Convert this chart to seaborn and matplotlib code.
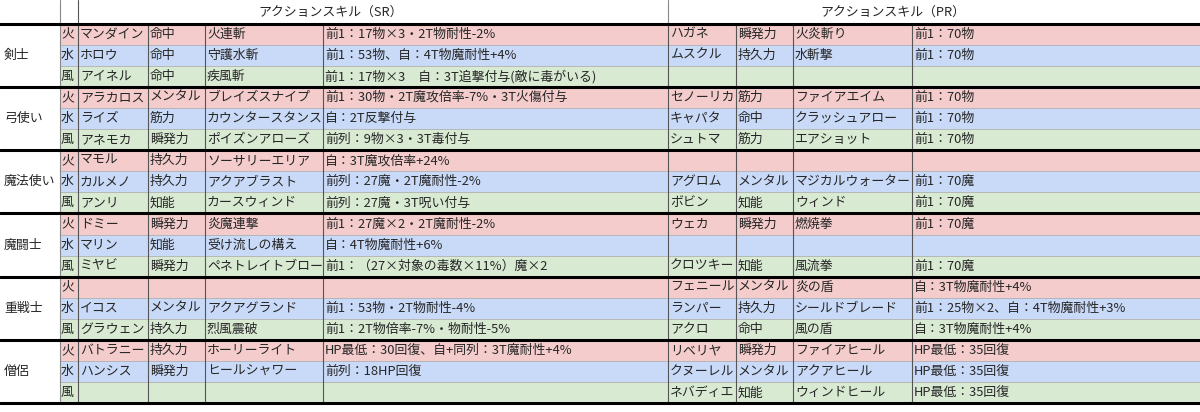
import matplotlib
matplotlib.use("Agg")
import matplotlib.pyplot as plt
import seaborn as sns

sns.set_theme(style="white")
plt.rcParams['font.family'] = ['Noto Sans CJK JP', 'DejaVu Sans']

classes = ["剣士", "弓使い", "魔法使い", "魔闘士", "重戦士", "僧侶"]
elements = ["火", "水", "風"]
sr_names = ["マンダイン", "ホロウ", "アイネル", "アラカロス", "ライズ", "アネモカ", "マモル", "カルメノ", "アンリ",
            "ドミー", "マリン", "ミヤビ", "", "イコス", "グラウェン", "バトラニー", "ハンシス", ""]
sr_stats = ["命中", "命中", "命中", "メンタル", "筋力", "瞬発力", "持久力", "持久力", "知能",
            "瞬発力", "知能", "瞬発力", "", "メンタル", "持久力", "持久力", "瞬発力", ""]
sr_skills = ["火連斬", "守護水斬", "疾風斬", "ブレイズスナイプ", "カウンタースタンス", "ポイズンアローズ",
             "ソーサリーエリア", "アクアブラスト", "カースウィンド", "炎魔連撃", "受け流しの構え", "ペネトレイトブロー",
             "", "アクアグランド", "烈風震破", "ホーリーライト", "ヒールシャワー", ""]
sr_descs = ["前1：17物×3・2T物耐性-2%", "前1：53物、自：4T物魔耐性+4%", "前1：17物×3　自：3T追撃付与(敵に毒がいる)",
            "前1：30物・2T魔攻倍率-7%・3T火傷付与", "自：2T反撃付与", "前列：9物×3・3T毒付与",
            "自：3T魔攻倍率+24%", "前列：27魔・2T魔耐性-2%", "前列：27魔・3T呪い付与",
            "前1：27魔×2・2T魔耐性-2%", "自：4T物魔耐性+6%", "前1：（27×対象の毒数×11%）魔×2",
            "", "前1：53物・2T物耐性-4%", "前1：2T物倍率-7%・物耐性-5%",
            "HP最低：30回復、自+同列：3T魔耐性+4%", "前列：18HP回復", ""]
pr_names = ["ハガネ", "ムスクル", "", "セノーリカ", "キャパタ", "シュトマ", "", "アグロム", "ボビン",
            "ウェカ", "", "クロツキー", "フェニール", "ランパー", "アクロ", "リベリヤ", "クヌーレル", "ネバディエ"]
pr_stats = ["瞬発力", "持久力", "", "筋力", "命中", "筋力", "", "メンタル", "知能",
            "瞬発力", "", "知能", "メンタル", "持久力", "命中", "瞬発力", "メンタル", "知能"]
pr_skills = ["火炎斬り", "水斬撃", "", "ファイアエイム", "クラッシュアロー", "エアショット", "", "マジカルウォーター", "ウィンド",
             "燃焼拳", "", "風流拳", "炎の盾", "シールドブレード", "風の盾", "ファイアヒール", "アクアヒール", "ウィンドヒール"]
pr_descs = ["前1：70物", "前1：70物", "", "前1：70物", "前1：70物", "前1：70物", "", "前1：70魔", "前1：70魔",
            "前1：70魔", "", "前1：70魔", "自：3T物魔耐性+4%", "前1：25物×2、自：4T物魔耐性+3%", "自：3T物魔耐性+4%",
            "HP最低：35回復", "HP最低：35回復", "HP最低：35回復"]
headers = ["アクションスキル（SR）", "アクションスキル（PR）"]

elem_colors = {"火": "#f4cccc", "水": "#c9daf8", "風": "#d9ead3"}
col_x = [0, 60, 78, 148, 205, 323, 668, 736, 793, 912, 1200]
top, rh = 23.5, 21.1
W, H = 1200, 412

fig = plt.figure(figsize=(12, 4.12), dpi=100)
ax = fig.add_axes([0, 0, 1, 1])
ax.set_xlim(0, W)
ax.set_ylim(H, 0)
ax.axis("off")

n = len(sr_names)
ys = [top + i * rh for i in range(n)]
row_elems = [elements[i % 3] for i in range(n)]
ax.barh([y + rh / 2 for y in ys], [W - 60] * n, left=60, height=rh,
        color=[elem_colors[e] for e in row_elems], edgecolor="none", zorder=1)

for y in ys[1:]:
    ax.plot([60, W], [y, y], color="#b0b0b0", lw=0.6, zorder=2)
for x in col_x[1:-1]:
    y0 = 0 if x in (60, 78) else top
    ax.plot([x, x], [y0, top + n * rh], color="#555555" if x >= 78 else "#888888", lw=0.8, zorder=2)
ax.plot([668, 668], [0, top], color="#888888", lw=0.8, zorder=2)
for g in range(7):
    y = top + g * 3 * rh
    ax.plot([0, W], [y, y], color="black", lw=2.2, zorder=3)

fs = 9.3
ax.text(331, 12, headers[0], ha="center", va="center", fontsize=fs, zorder=4)
ax.text(893, 12, headers[1], ha="center", va="center", fontsize=fs, zorder=4)
for g, c in enumerate(classes):
    ax.text(4, top + (g * 3 + 1.5) * rh, c, ha="left", va="center", fontsize=fs, zorder=4)
cols = [row_elems, sr_names, sr_stats, sr_skills, sr_descs, pr_names, pr_stats, pr_skills, pr_descs]
xs = [61, 80, 150, 207, 325, 670, 738, 795, 914]
for i in range(n):
    yc = ys[i] + rh / 2
    for data, x in zip(cols, xs):
        if data[i]:
            ax.text(x, yc, data[i], ha="left", va="center", fontsize=fs, zorder=4)

fig.savefig("out.png", dpi=100)
